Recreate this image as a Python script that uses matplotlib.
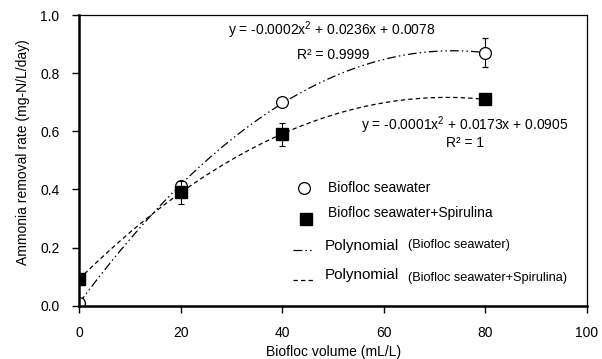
import numpy as np
import matplotlib.pyplot as plt
from matplotlib.ticker import FormatStrFormatter

plt.rcParams['font.family'] = ['Liberation Sans', 'DejaVu Sans']
plt.rcParams['mathtext.fontset'] = 'custom'
plt.rcParams['mathtext.rm'] = 'Liberation Sans'
plt.rcParams['mathtext.default'] = 'rm'

# data
volume = [0, 20, 40, 80]
seawater = [0.01, 0.41, 0.70, 0.87]
seawater_err = [0.005, 0.01, 0.01, 0.05]
spirulina = [0.09, 0.39, 0.59, 0.71]
spirulina_err = [0.01, 0.04, 0.04, 0.01]

eq_seawater = 'y = -0.0002x$^2$ + 0.0236x + 0.0078'
r2_seawater = 'R² = 0.9999'
eq_spirulina = 'y = -0.0001x$^2$ + 0.0173x + 0.0905'
r2_spirulina = 'R² = 1'

fig = plt.figure(figsize=(6.02, 3.59), dpi=100)
ax = fig.add_axes([0.1312, 0.1487, 0.8438, 0.8093])

# polynomial trend lines (2nd order fit of the points)
xs = np.linspace(0, 80, 200)
p1 = np.polyfit(volume, seawater, 2)
p2 = np.polyfit(volume, spirulina, 2)
dashdotdot = (7, 2.5, 1.2, 2.5, 1.2, 2.5)
ax.plot(xs, np.polyval(p1, xs), color='black', lw=0.9, dashes=dashdotdot, zorder=2)
ax.plot(xs, np.polyval(p2, xs), color='black', lw=0.9, dashes=(3.5, 2.5), zorder=2)

ax.errorbar(volume, seawater, yerr=seawater_err, fmt='o', ms=8.5, mfc='white',
            mec='black', mew=0.9, ecolor='black', elinewidth=0.8, capsize=2.5,
            capthick=0.8, zorder=3)
ax.errorbar(volume, spirulina, yerr=spirulina_err, fmt='s', ms=9, mfc='black',
            mec='black', ecolor='black', elinewidth=0.8, capsize=2.5,
            capthick=0.8, zorder=4)

ax.set_xlim(0, 100)
ax.set_ylim(0, 1.0)
ax.set_xticks([0, 20, 40, 60, 80, 100])
ax.set_yticks([0, 0.2, 0.4, 0.6, 0.8, 1.0])
ax.yaxis.set_major_formatter(FormatStrFormatter('%.1f'))
ax.tick_params(direction='out', length=5, width=1, labelsize=10)
ax.tick_params(axis='x', pad=10)
ax.tick_params(axis='y', pad=9)
ax.spines['left'].set_linewidth(1.8)
ax.spines['bottom'].set_linewidth(1.8)
ax.spines['top'].set_linewidth(0.9)
ax.spines['right'].set_linewidth(0.9)
for s in ax.spines.values():
    s.set_zorder(5)

# axis titles
fig.text(0.554, 0.020, 'Biofloc volume (mL/L)', fontsize=10, ha='center', va='center')
fig.text(0.039, 0.577, 'Ammonia removal rate (mg-N/L/day)', fontsize=10,
         rotation=90, ha='center', va='center')

# equations
tr = ax.transAxes
ax.text(0.497, 0.948, eq_seawater, transform=tr, fontsize=10, ha='center', va='center')
ax.text(0.500, 0.862, r2_seawater, transform=tr, fontsize=10, ha='center', va='center')
ax.text(0.759, 0.621, eq_spirulina, transform=tr, fontsize=10, ha='center', va='center')
ax.text(0.760, 0.559, r2_spirulina, transform=tr, fontsize=10, ha='center', va='center')

# hand-made legend
ax.plot([0.443], [0.405], 'o', ms=8.5, mfc='white', mec='black', mew=0.9,
        transform=tr, clip_on=False)
ax.text(0.490, 0.405, 'Biofloc seawater', transform=tr, fontsize=10, va='center')
ax.plot([0.446], [0.298], 's', ms=9, color='black', transform=tr, clip_on=False)
ax.text(0.490, 0.319, 'Biofloc seawater+Spirulina', transform=tr, fontsize=10, va='center')
ax.plot([0.421, 0.462], [0.190, 0.190], color='black', lw=0.9,
        dashes=dashdotdot, transform=tr)
ax.text(0.484, 0.205, 'Polynomial', transform=tr, fontsize=11, va='center')
ax.text(0.648, 0.208, '(Biofloc seawater)', transform=tr, fontsize=9.2, va='center')
ax.plot([0.421, 0.462], [0.088, 0.088], color='black', lw=0.9,
        dashes=(3.5, 2.5), transform=tr)
ax.text(0.484, 0.105, 'Polynomial', transform=tr, fontsize=11, va='center')
ax.text(0.648, 0.095, '(Biofloc seawater+Spirulina)', transform=tr, fontsize=9.2, va='center')

fig.savefig('out.png', dpi=100)
